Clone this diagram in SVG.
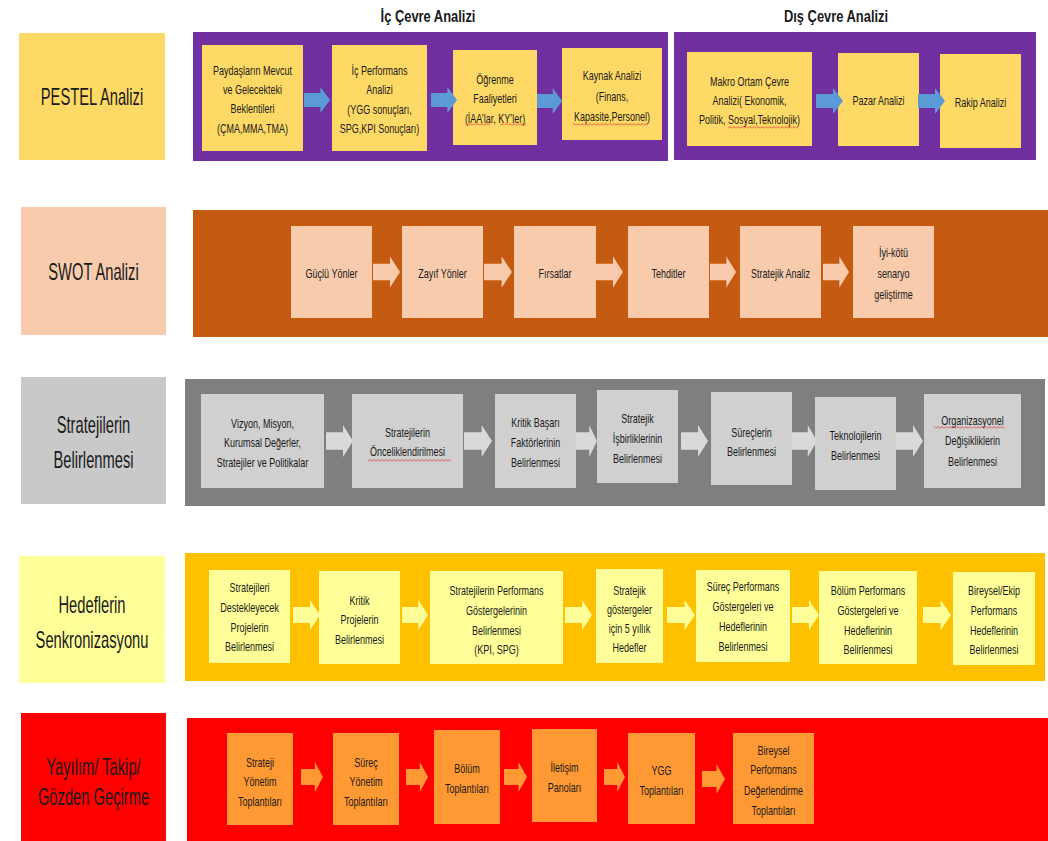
<svg xmlns="http://www.w3.org/2000/svg" xmlns:xlink="http://www.w3.org/1999/xlink" width="1048" height="841" viewBox="0 0 1048 841">
<style>
text{font-family:"Liberation Sans",Arial,sans-serif;fill:#1a1a1a;text-anchor:middle}
.t{font-size:12.5px}
.lbl{font-size:23px}
.hd{font-size:17px;font-weight:bold}
.purple{fill:#7030A0}
.orange{fill:#C55A11}
.gray{fill:#7F7F7F}
.amber{fill:#FFC000}
.red{fill:#FF0000}
.b1{fill:#FFD966}
.b2{fill:#F8CBAD}
.b3{fill:#D0D0D0}
.b4{fill:#FFFF99}
.b5{fill:#FF9933}
.a1{fill:#5B9BD5}
.a2{fill:#F8CBAD}
.a3{fill:#D9D9D9}
.a4{fill:#FFFF99}
.a5{fill:#FF9933}
.wv{fill:url(#wave)}
</style>
<defs>
<path id="ar" d="M0,-0.27 H0.63 V-0.5 L1,0 L0.63,0.5 V0.27 H0 Z"/>
<pattern id="wave" width="4" height="3" patternUnits="userSpaceOnUse">
<path d="M0,2.5 L2,0.5 L4,2.5" fill="none" stroke="#E03030" stroke-width="0.8"/>
</pattern>
</defs>
<rect width="1048" height="841" fill="#ffffff"/>

<!-- headings -->
<g transform="translate(428 0) scale(0.76 1)"><text class="hd" x="0" y="22">İç Çevre Analizi</text></g>
<g transform="translate(836 0) scale(0.76 1)"><text class="hd" x="0" y="22">Dış Çevre Analizi</text></g>

<!-- left labels -->
<g id="lbl-pestel"><rect class="b1" x="19" y="33" width="146" height="127"/><g transform="translate(92 0) scale(0.64 1)"><text class="lbl" x="0" y="105">PESTEL Analizi</text></g></g>
<g id="lbl-swot"><rect class="b2" x="21" y="207" width="145" height="128"/><g transform="translate(93.5 0) scale(0.64 1)"><text class="lbl" x="0" y="280">SWOT Analizi</text></g></g>
<g id="lbl-strat"><rect fill="#C9C9C9" x="21" y="377" width="145" height="127"/><g transform="translate(93.5 0) scale(0.64 1)"><text class="lbl" x="0" y="433">Stratejilerin</text><text class="lbl" x="0" y="468">Belirlenmesi</text></g></g>
<g id="lbl-hedef"><rect class="b4" x="19" y="556" width="146" height="127"/><g transform="translate(92 0) scale(0.64 1)"><text class="lbl" x="0" y="613">Hedeflerin</text><text class="lbl" x="0" y="648">Senkronizasyonu</text></g></g>
<g id="lbl-yayilim"><rect class="red" x="21" y="713" width="145" height="128"/><g transform="translate(93.5 0) scale(0.64 1)"><text class="lbl" x="0" y="775">Yayılım/ Takip/</text><text class="lbl" x="0" y="805">Gözden Geçirme</text></g></g>

<!-- panels -->
<rect class="purple" x="193" y="32" width="475" height="129"/>
<rect class="purple" x="674" y="32" width="362" height="128"/>
<rect class="orange" x="193" y="210" width="855" height="127"/>
<rect class="gray" x="185" y="379" width="860" height="127"/>
<rect class="amber" x="185" y="553" width="860" height="128"/>
<rect class="red" x="187" y="718" width="861" height="123"/>

<!-- Row 1 -->
<g id="p1"><rect class="b1" x="202" y="45" width="101" height="106"/>
<g transform="translate(252.5 0) scale(0.72 1)"><text class="t" x="0" y="75">Paydaşların Mevcut</text><text class="t" x="0" y="94">ve Gelecekteki</text><text class="t" x="0" y="113">Beklentileri</text><text class="t" x="0" y="133">(ÇMA,MMA,TMA)</text></g></g>
<g id="p2"><rect class="b1" x="332" y="45" width="95" height="106"/>
<g transform="translate(379.5 0) scale(0.72 1)"><text class="t" x="0" y="75">İç Performans</text><text class="t" x="0" y="94">Analizi</text><text class="t" x="0" y="114">(YGG sonuçları,</text><text class="t" x="0" y="133">SPG,KPI Sonuçları)</text></g></g>
<g id="p3"><rect class="b1" x="453" y="50" width="84" height="95"/>
<g transform="translate(495 0) scale(0.72 1)"><text class="t" x="0" y="84">Öğrenme</text><text class="t" x="0" y="103">Faaliyetleri</text><text class="t" x="0" y="123">(İAA’lar, KY’ler)</text></g>
<rect class="wv" x="466" y="123" width="24" height="3"/><rect class="wv" x="500" y="123" width="26" height="3"/></g>
<g id="p4"><rect class="b1" x="562" y="48" width="100" height="92"/>
<g transform="translate(612 0) scale(0.72 1)"><text class="t" x="0" y="80">Kaynak Analizi</text><text class="t" x="0" y="101">(Finans,</text><text class="t" x="0" y="121">Kapasite,Personel)</text></g>
<rect class="wv" x="573" y="123" width="75" height="3"/></g>
<g id="p5"><rect class="b1" x="687" y="52" width="125" height="94"/>
<g transform="translate(749.5 0) scale(0.72 1)"><text class="t" x="0" y="86">Makro Ortam Çevre</text><text class="t" x="0" y="105">Analizi( Ekonomik,</text><text class="t" x="0" y="124">Politik, Sosyal,Teknolojik)</text></g>
<rect class="wv" x="728" y="126" width="70" height="3"/></g>
<g id="p6"><rect class="b1" x="838" y="53" width="81" height="93"/><g transform="translate(878.5 0) scale(0.72 1)"><text class="t" x="0" y="105">Pazar Analizi</text></g></g>
<g id="p7"><rect class="b1" x="940" y="54" width="81" height="94"/><g transform="translate(980.5 0) scale(0.72 1)"><text class="t" x="0" y="107">Rakip Analizi</text></g></g>

<!-- Row 2 -->
<g id="s1"><rect class="b2" x="291" y="226" width="81" height="92"/><g transform="translate(331.5 0) scale(0.72 1)"><text class="t" x="0" y="278">Güçlü Yönler</text></g></g>
<g id="s2"><rect class="b2" x="402" y="226" width="81" height="92"/><g transform="translate(442.5 0) scale(0.72 1)"><text class="t" x="0" y="278">Zayıf Yönler</text></g></g>
<g id="s3"><rect class="b2" x="514" y="226" width="82" height="92"/><g transform="translate(555 0) scale(0.72 1)"><text class="t" x="0" y="278">Fırsatlar</text></g></g>
<g id="s4"><rect class="b2" x="628" y="226" width="81" height="92"/><g transform="translate(668.5 0) scale(0.72 1)"><text class="t" x="0" y="278">Tehditler</text></g></g>
<g id="s5"><rect class="b2" x="740" y="226" width="81" height="92"/><g transform="translate(780.5 0) scale(0.72 1)"><text class="t" x="0" y="278">Stratejik Analiz</text></g></g>
<g id="s6"><rect class="b2" x="853" y="226" width="81" height="92"/><g transform="translate(893.5 0) scale(0.72 1)"><text class="t" x="0" y="257">İyi-kötü</text><text class="t" x="0" y="278">senaryo</text><text class="t" x="0" y="299">geliştirme</text></g></g>

<!-- Row 3 -->
<g id="r1"><rect class="b3" x="201" y="394" width="123" height="94"/><g transform="translate(262.5 0) scale(0.72 1)"><text class="t" x="0" y="428">Vizyon, Misyon,</text><text class="t" x="0" y="447">Kurumsal Değerler,</text><text class="t" x="0" y="467">Stratejiler ve Politikalar</text></g></g>
<g id="r2"><rect class="b3" x="352" y="394" width="111" height="94"/><g transform="translate(407.5 0) scale(0.72 1)"><text class="t" x="0" y="437">Stratejilerin</text><text class="t" x="0" y="456">Önceliklendirilmesi</text></g><rect class="wv" x="368" y="459" width="83" height="3"/></g>
<g id="r3"><rect class="b3" x="495" y="394" width="81" height="94"/><g transform="translate(535.5 0) scale(0.72 1)"><text class="t" x="0" y="427">Kritik Başarı</text><text class="t" x="0" y="447">Faktörlerinin</text><text class="t" x="0" y="467">Belirlenmesi</text></g></g>
<g id="r4"><rect class="b3" x="597" y="390" width="81" height="93"/><g transform="translate(637.5 0) scale(0.72 1)"><text class="t" x="0" y="423">Stratejik</text><text class="t" x="0" y="443">İşbirliklerinin</text><text class="t" x="0" y="463">Belirlenmesi</text></g></g>
<g id="r5"><rect class="b3" x="711" y="392" width="81" height="93"/><g transform="translate(751.5 0) scale(0.72 1)"><text class="t" x="0" y="437">Süreçlerin</text><text class="t" x="0" y="456">Belirlenmesi</text></g></g>
<g id="r6"><rect class="b3" x="815" y="397" width="81" height="93"/><g transform="translate(855.5 0) scale(0.72 1)"><text class="t" x="0" y="440">Teknolojilerin</text><text class="t" x="0" y="460">Belirlenmesi</text></g></g>
<g id="r7"><rect class="b3" x="924" y="394" width="97" height="94"/><g transform="translate(972.5 0) scale(0.72 1)"><text class="t" x="0" y="425">Organizasyonel</text><text class="t" x="0" y="445">Değişikliklerin</text><text class="t" x="0" y="466">Belirlenmesi</text></g><rect class="wv" x="934" y="426" width="71" height="3"/></g>

<!-- Row 4 -->
<g id="h1"><rect class="b4" x="209" y="570" width="81" height="93"/><g transform="translate(249.5 0) scale(0.72 1)"><text class="t" x="0" y="592">Stratejileri</text><text class="t" x="0" y="612">Destekleyecek</text><text class="t" x="0" y="632">Projelerin</text><text class="t" x="0" y="651">Belirlenmesi</text></g></g>
<g id="h2"><rect class="b4" x="319" y="571" width="81" height="93"/><g transform="translate(359.5 0) scale(0.72 1)"><text class="t" x="0" y="605">Kritik</text><text class="t" x="0" y="624">Projelerin</text><text class="t" x="0" y="644">Belirlenmesi</text></g></g>
<g id="h3"><rect class="b4" x="430" y="571" width="133" height="93"/><g transform="translate(496.5 0) scale(0.72 1)"><text class="t" x="0" y="595">Stratejilerin Performans</text><text class="t" x="0" y="615">Göstergelerinin</text><text class="t" x="0" y="635">Belirlenmesi</text><text class="t" x="0" y="654">(KPI, SPG)</text></g></g>
<g id="h4"><rect class="b4" x="596" y="569" width="67" height="94"/><g transform="translate(629.5 0) scale(0.72 1)"><text class="t" x="0" y="595">Stratejik</text><text class="t" x="0" y="614">göstergeler</text><text class="t" x="0" y="633">için 5 yıllık</text><text class="t" x="0" y="652">Hedefler</text></g></g>
<g id="h5"><rect class="b4" x="696" y="570" width="94" height="92"/><g transform="translate(743 0) scale(0.72 1)"><text class="t" x="0" y="591">Süreç Performans</text><text class="t" x="0" y="611">Göstergeleri ve</text><text class="t" x="0" y="631">Hedeflerinin</text><text class="t" x="0" y="651">Belirlenmesi</text></g></g>
<g id="h6"><rect class="b4" x="819" y="571" width="98" height="93"/><g transform="translate(868 0) scale(0.72 1)"><text class="t" x="0" y="595">Bölüm Performans</text><text class="t" x="0" y="615">Göstergeleri ve</text><text class="t" x="0" y="635">Hedeflerinin</text><text class="t" x="0" y="654">Belirlenmesi</text></g></g>
<g id="h7"><rect class="b4" x="953" y="572" width="82" height="93"/><g transform="translate(994 0) scale(0.72 1)"><text class="t" x="0" y="595">Bireysel/Ekip</text><text class="t" x="0" y="615">Performans</text><text class="t" x="0" y="635">Hedeflerinin</text><text class="t" x="0" y="654">Belirlenmesi</text></g></g>

<!-- Row 5 -->
<g id="y1"><rect class="b5" x="227" y="733" width="66" height="92"/><g transform="translate(260 0) scale(0.72 1)"><text class="t" x="0" y="767">Strateji</text><text class="t" x="0" y="786">Yönetim</text><text class="t" x="0" y="806">Toplantıları</text></g></g>
<g id="y2"><rect class="b5" x="333" y="733" width="66" height="92"/><g transform="translate(366 0) scale(0.72 1)"><text class="t" x="0" y="767">Süreç</text><text class="t" x="0" y="786">Yönetim</text><text class="t" x="0" y="806">Toplantıları</text></g></g>
<g id="y3"><rect class="b5" x="434" y="730" width="66" height="94"/><g transform="translate(467 0) scale(0.72 1)"><text class="t" x="0" y="773">Bölüm</text><text class="t" x="0" y="793">Toplantıları</text></g></g>
<g id="y4"><rect class="b5" x="532" y="729" width="65" height="93"/><g transform="translate(564.5 0) scale(0.72 1)"><text class="t" x="0" y="772">İletişim</text><text class="t" x="0" y="792">Panoları</text></g></g>
<g id="y5"><rect class="b5" x="628" y="733" width="67" height="91"/><g transform="translate(661.5 0) scale(0.72 1)"><text class="t" x="0" y="775">YGG</text><text class="t" x="0" y="795">Toplantıları</text></g></g>
<g id="y6"><rect class="b5" x="733" y="733" width="81" height="91"/><g transform="translate(773.5 0) scale(0.72 1)"><text class="t" x="0" y="755">Bireysel</text><text class="t" x="0" y="774">Performans</text><text class="t" x="0" y="795">Değerlendirme</text><text class="t" x="0" y="815">Toplantıları</text></g></g>

<!-- connectors -->
<g id="connectors">
<use xlink:href="#ar" class="a1" transform="translate(304,100) scale(26,26)"/>
<use xlink:href="#ar" class="a1" transform="translate(431,100) scale(26,26)"/>
<use xlink:href="#ar" class="a1" transform="translate(537,101) scale(25,26)"/>
<use xlink:href="#ar" class="a1" transform="translate(816,101) scale(27,26)"/>
<use xlink:href="#ar" class="a1" transform="translate(918,101) scale(27,26)"/>

<use xlink:href="#ar" class="a2" transform="translate(373,272) scale(27,31)"/>
<use xlink:href="#ar" class="a2" transform="translate(484,272) scale(28,31)"/>
<use xlink:href="#ar" class="a2" transform="translate(596,272) scale(27,31)"/>
<use xlink:href="#ar" class="a2" transform="translate(710,272) scale(26,31)"/>
<use xlink:href="#ar" class="a2" transform="translate(823,272) scale(26,31)"/>

<use xlink:href="#ar" class="a3" transform="translate(326,441) scale(27,32)"/>
<use xlink:href="#ar" class="a3" transform="translate(464,441) scale(28,32)"/>
<use xlink:href="#ar" class="a3" transform="translate(576,441) scale(21,32)"/>
<use xlink:href="#ar" class="a3" transform="translate(681,441) scale(27,32)"/>
<use xlink:href="#ar" class="a3" transform="translate(792,441) scale(25,32)"/>
<use xlink:href="#ar" class="a3" transform="translate(896,441) scale(27,32)"/>

<use xlink:href="#ar" class="a4" transform="translate(293,615) scale(27,30)"/>
<use xlink:href="#ar" class="a4" transform="translate(402,615) scale(26,30)"/>
<use xlink:href="#ar" class="a4" transform="translate(565,615) scale(27,30)"/>
<use xlink:href="#ar" class="a4" transform="translate(667,615) scale(28,30)"/>
<use xlink:href="#ar" class="a4" transform="translate(792,615) scale(27,30)"/>
<use xlink:href="#ar" class="a4" transform="translate(923,615) scale(28,30)"/>

<use xlink:href="#ar" class="a5" transform="translate(301,777) scale(22,30)"/>
<use xlink:href="#ar" class="a5" transform="translate(406,777) scale(22,30)"/>
<use xlink:href="#ar" class="a5" transform="translate(504,777) scale(23,30)"/>
<use xlink:href="#ar" class="a5" transform="translate(604,777) scale(21,30)"/>
<use xlink:href="#ar" class="a5" transform="translate(702,779) scale(23,30)"/>
</g>
</svg>
